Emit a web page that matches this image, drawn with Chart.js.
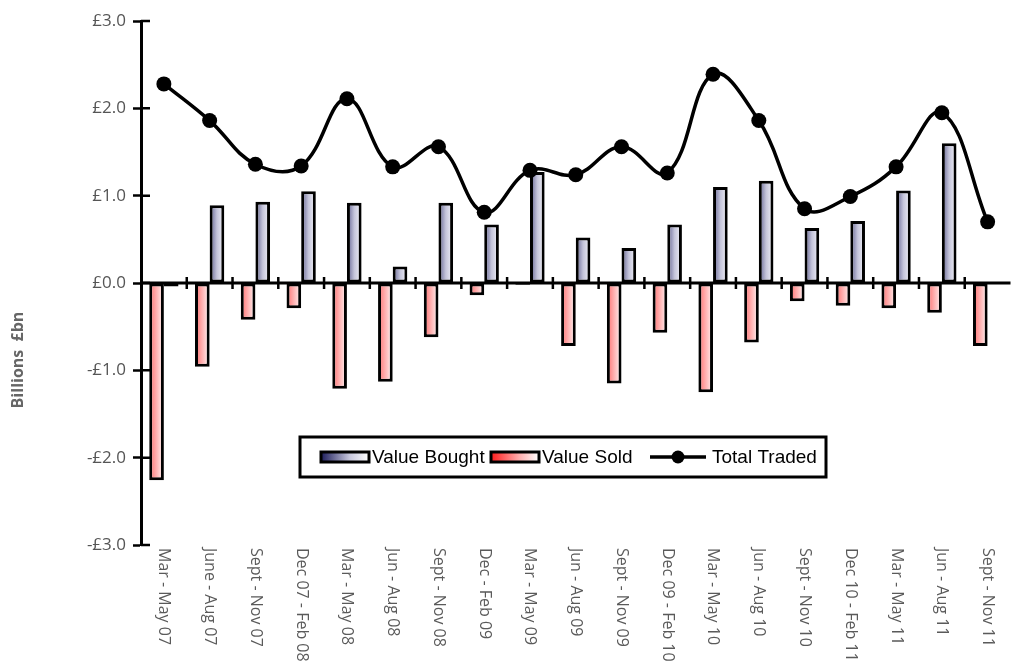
<!DOCTYPE html>
<html>
<head>
<meta charset="utf-8">
<script src="https://cdn.jsdelivr.net/npm/chart.js@4.4.1/dist/chart.umd.min.js"></script>
<style>
  html, body { margin: 0; padding: 0; background: #fff; }
  canvas { display: block; }
</style>
</head>
<body>
<canvas id="trades" width="1018" height="661"></canvas>
<script>
// Quarterly periods
const periods = [
  'Mar - May 07', 'June - Aug 07', 'Sept - Nov 07', 'Dec 07 - Feb 08',
  'Mar - May 08', 'Jun - Aug 08', 'Sept - Nov 08', 'Dec - Feb 09',
  'Mar - May 09', 'Jun - Aug 09', 'Sept - Nov 09', 'Dec 09 - Feb 10',
  'Mar - May 10', 'Jun - Aug 10', 'Sept - Nov 10', 'Dec 10 - Feb 11',
  'Mar - May 11', 'Jun - Aug 11', 'Sept - Nov 11'
];

// Values in £ billions
const valueBought = [
  -0.04, 0.89, 0.93, 1.05, 0.92, 0.19, 0.92, 0.67, 1.27, 0.52,
  0.40, 0.67, 1.10, 1.17, 0.63, 0.71, 1.06, 1.60, 0.00
];
const valueSold = [
  -2.26, -0.96, -0.42, -0.29, -1.21, -1.13, -0.62, -0.14, -0.02, -0.72,
  -1.15, -0.57, -1.25, -0.68, -0.21, -0.26, -0.29, -0.34, -0.72
];
const totalTraded = [
  2.28, 1.86, 1.36, 1.34, 2.11, 1.33, 1.56, 0.81, 1.29, 1.24,
  1.56, 1.26, 2.39, 1.86, 0.85, 0.99, 1.33, 1.95, 0.70
];

// Value axis range and step
const axisMin = -3;
const axisMax = 3;
const axisStep = 1;

const poundLabel = v => (v < 0 ? '-' : '') + '£' + Math.abs(v).toFixed(1);

// Horizontal gradient fill for every bar, spanning the bar's own width
const barShading = {
  id: 'barShading',
  beforeDatasetsDraw(chart) {
    const ctx = chart.ctx;
    chart.data.datasets.forEach((ds, i) => {
      if (ds.type !== 'bar') return;
      const meta = chart.getDatasetMeta(i);
      meta.data.forEach(bar => {
        const { x, width } = bar.getProps(['x', 'width'], true);
        const g = ctx.createLinearGradient(x - width / 2, 0, x + width / 2, 0);
        ds.shade.forEach(([stop, col]) => g.addColorStop(stop, col));
        bar.options.backgroundColor = g;
      });
    });
  }
};

// Zero line, crossing tick marks on both axes
const axisMarks = {
  id: 'axisMarks',
  afterDatasetsDraw(chart) {
    const { ctx, chartArea, scales: { x, y } } = chart;
    const y0 = y.getPixelForValue(0);
    ctx.save();
    ctx.strokeStyle = '#000';
    ctx.lineWidth = 3;
    ctx.beginPath();
    ctx.moveTo(chartArea.left, y0);
    ctx.lineTo(chartArea.right, y0);
    ctx.stroke();

    ctx.lineWidth = 2.5;
    ctx.beginPath();
    for (let i = 1; i < periods.length; i++) {
      const bx = (x.getPixelForValue(i - 1) + x.getPixelForValue(i)) / 2;
      ctx.moveTo(bx, y0 - 6);
      ctx.lineTo(bx, y0 + 6);
    }
    y.ticks.forEach(t => {
      const py = y.getPixelForValue(t.value);
      ctx.moveTo(chartArea.left, py);
      ctx.lineTo(chartArea.left + 9, py);
    });
    ctx.stroke();
    ctx.restore();
  }
};

// Period labels, rotated to read downwards under the plot
const periodLabels = {
  id: 'periodLabels',
  afterDraw(chart) {
    const { ctx, chartArea, scales: { x } } = chart;
    ctx.save();
    ctx.font = '16px "Open Sans"';
    ctx.fillStyle = '#5a5a5a';
    ctx.textAlign = 'left';
    ctx.textBaseline = 'middle';
    periods.forEach((p, i) => {
      ctx.save();
      ctx.translate(x.getPixelForValue(i), chartArea.bottom + 3);
      ctx.rotate(Math.PI / 2);
      ctx.fillText(p, 0, 0);
      ctx.restore();
    });
    ctx.restore();
  }
};

// Value axis title
const valueTitle = {
  id: 'valueTitle',
  afterDraw(chart) {
    const ctx = chart.ctx;
    ctx.save();
    ctx.translate(18, 360);
    ctx.rotate(-Math.PI / 2);
    ctx.font = 'bold 16px "Open Sans"';
    ctx.fillStyle = '#666';
    ctx.textAlign = 'center';
    ctx.textBaseline = 'middle';
    ctx.fillText('Billions  £bn', 0, 0);
    ctx.restore();
  }
};

// Boxed legend inside the plot
const boxLegend = {
  id: 'boxLegend',
  afterDraw(chart) {
    const ctx = chart.ctx;
    const byLabel = l => chart.data.datasets.find(d => d.label === l);
    const bought = byLabel('Value Bought');
    const sold = byLabel('Value Sold');
    const total = byLabel('Total Traded');
    const bx = 300, by = 437, bw = 526, bh = 40, cy = by + bh / 2;

    ctx.save();
    ctx.fillStyle = '#fff';
    ctx.fillRect(bx, by, bw, bh);
    ctx.strokeStyle = '#000';
    ctx.lineWidth = 3;
    ctx.strokeRect(bx, by, bw, bh);

    ctx.font = '19px "Liberation Sans", Arial, sans-serif';
    ctx.textAlign = 'left';
    ctx.textBaseline = 'middle';

    const swatch = (sx, ds) => {
      const g = ctx.createLinearGradient(sx, 0, sx + 48, 0);
      ds.legendShade.forEach(([stop, col]) => g.addColorStop(stop, col));
      ctx.fillStyle = g;
      ctx.fillRect(sx, cy - 5, 48, 10);
      ctx.lineWidth = 3;
      ctx.strokeStyle = '#000';
      ctx.strokeRect(sx, cy - 5, 48, 10);
      ctx.fillStyle = '#000';
      ctx.fillText(ds.label, sx + 51, cy + 1);
    };
    swatch(321, bought);
    swatch(491, sold);

    ctx.strokeStyle = total.borderColor;
    ctx.lineWidth = 3.5;
    ctx.beginPath();
    ctx.moveTo(650, cy);
    ctx.lineTo(706, cy);
    ctx.stroke();
    ctx.fillStyle = total.pointBackgroundColor;
    ctx.beginPath();
    ctx.arc(678, cy, 6.5, 0, Math.PI * 2);
    ctx.fill();
    ctx.fillStyle = '#000';
    ctx.fillText(total.label, 712, cy + 1);
    ctx.restore();
  }
};

new Chart(document.getElementById('trades'), {
  data: {
    labels: periods,
    datasets: [
      {
        type: 'line',
        label: 'Total Traded',
        data: totalTraded,
        order: 0,
        borderColor: '#000',
        borderWidth: 3.5,
        tension: 0.4,
        pointRadius: 7.5,
        pointBackgroundColor: '#000',
        pointBorderColor: '#000',
        pointBorderWidth: 0
      },
      {
        type: 'bar',
        label: 'Value Sold',
        data: valueSold,
        order: 1,
        shade: [[0, '#ff6e6e'], [0.55, '#ffb8b8'], [1, '#fff6f6']],
        legendShade: [[0, '#ff1c1c'], [0.6, '#ffb0b0'], [1, '#ffffff']],
        backgroundColor: () => '#ffb8b8',
        borderColor: '#000',
        borderWidth: 3,
        borderSkipped: false,
        categoryPercentage: 0.64,
        barPercentage: 1
      },
      {
        type: 'bar',
        label: 'Value Bought',
        data: valueBought,
        order: 2,
        shade: [[0, '#5e5e8e'], [0.5, '#c4c4da'], [1, '#f4f4fa']],
        legendShade: [[0, '#1c1c5a'], [0.6, '#c8c8de'], [1, '#ffffff']],
        backgroundColor: () => '#c4c4da',
        borderColor: '#000',
        borderWidth: 3,
        borderSkipped: false,
        categoryPercentage: 0.64,
        barPercentage: 1
      }
    ]
  },
  options: {
    responsive: false,
    devicePixelRatio: 1,
    animation: false,
    events: [],
    layout: { padding: { top: 21, right: 0, bottom: 116, left: 0 } },
    plugins: {
      legend: { display: false },
      tooltip: { enabled: false }
    },
    scales: {
      x: {
        type: 'category',
        display: false,
        offset: true
      },
      y: {
        min: axisMin,
        max: axisMax,
        afterFit(scale) { scale.width = 141; },
        ticks: {
          stepSize: axisStep,
          padding: 7,
          color: '#555',
          font: { family: 'Open Sans', size: 17 },
          callback: v => poundLabel(v)
        },
        grid: {
          drawOnChartArea: false,
          drawTicks: true,
          tickLength: 8,
          tickColor: '#000',
          tickWidth: 2.5
        },
        border: { display: true, color: '#000', width: 3 }
      }
    }
  },
  plugins: [barShading, axisMarks, periodLabels, valueTitle, boxLegend]
});
</script>
</body>
</html>
